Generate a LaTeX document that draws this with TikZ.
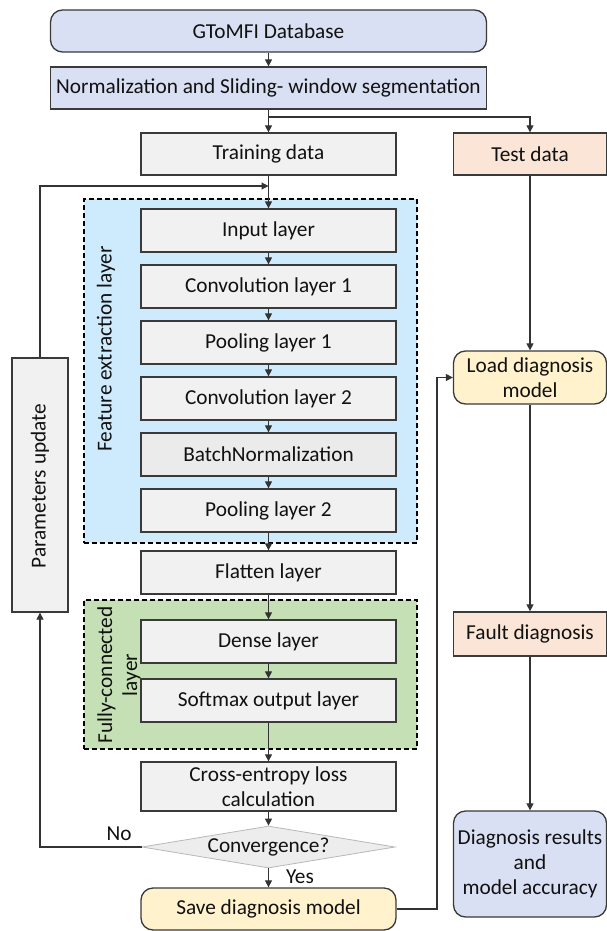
\documentclass[tikz,border=0pt]{standalone}
\usepackage{fontspec}
\setmainfont{Carlito}
\usetikzlibrary{shapes.geometric,arrows.meta}
\definecolor{lav}{HTML}{DAE0F3}
\definecolor{feblue}{HTML}{CDEBFD}
\definecolor{fcgreen}{HTML}{C5E0B4}
\definecolor{grayf}{HTML}{F1F1F1}
\definecolor{bngray}{HTML}{EBEBEB}
\definecolor{peach}{HTML}{FBE5D6}
\definecolor{yel}{HTML}{FFF2CC}
\definecolor{bordc}{HTML}{3A3A3A}
\definecolor{linec}{HTML}{333333}
\definecolor{txt}{HTML}{111111}
\begin{document}
\begin{tikzpicture}[x=1pt,y=-1pt,
  font=\fontsize{21.3}{25}\selectfont,
  box/.style={draw=bordc, line width=1.3pt, fill=grayf, minimum width=255pt, minimum height=43pt, inner sep=0pt, align=center, text=txt},
  sidebox/.style={box, minimum width=153pt},
  rbox/.style={box, rounded corners=12pt},
  group/.style={draw=black, line width=2.2pt, dash pattern=on 5pt off 3pt, inner sep=0pt},
  arr/.style={draw=linec, line width=1.2pt, -{Triangle[length=7pt,width=7pt]}},
  plain/.style={draw=linec, line width=1.2pt},
  lbl/.style={text=txt, inner sep=0pt}]
\useasboundingbox (0,0) rectangle (607,931);
% groups
\node[group, fill=feblue, minimum width=333pt, minimum height=344pt] (fe) at (250.5,371) {};
\node[group, fill=fcgreen, minimum width=333pt, minimum height=149pt] (fc) at (250.5,674.5) {};
\node[lbl, rotate=90] (felbl) at (106,349) {Feature extraction layer};
\node[lbl, rotate=90, align=center] (fclbl) at (119,675) {Fully-connected\\layer};
% main column
\node[rbox, fill=lav, minimum width=436pt, minimum height=42pt] (db) at (268.5,31) {GToMFI Database};
\node[box, fill=lav, minimum width=436pt, minimum height=42pt] (norm) at (268.5,88) {Normalization and Sliding- window segmentation};
\node[box, minimum height=42pt] (train) at (268.5,154) {Training data};
\node[box] (input) at (268.5,230.5) {Input layer};
\node[box] (conv1) at (268.5,286.5) {Convolution layer 1};
\node[box] (pool1) at (268.5,342.5) {Pooling layer 1};
\node[box] (conv2) at (268.5,398.5) {Convolution layer 2};
\node[box, fill=bngray] (bn) at (268.5,454.5) {BatchNormalization};
\node[box] (pool2) at (268.5,510.5) {Pooling layer 2};
\node[box] (flat) at (268.5,572.5) {Flatten layer};
\node[box] (dense) at (268.5,641.5) {Dense layer};
\node[box] (soft) at (268.5,700.5) {Softmax output layer};
\node[box, minimum height=49pt] (loss) at (268.5,786.5) {Cross-entropy loss\\calculation};
\node[draw=black!28, line width=0.8pt, fill=black!7, shape=diamond, aspect=6, minimum width=253pt, minimum height=42pt, inner sep=0pt, text=txt] (conv) at (268.5,847) {Convergence?};
\node[rbox, fill=yel, minimum height=42pt] (save) at (268.5,909) {Save diagnosis model};
% left
\node[box, minimum width=56pt, minimum height=254pt] (params) at (40,485) {};
\node[lbl, rotate=90] (plbl) at (40,486) {Parameters update};
% right column
\node[sidebox, fill=peach, minimum height=42pt] (test) at (530,154) {Test data};
\node[sidebox, rbox, fill=yel, minimum width=153pt, minimum height=53pt] (load) at (530,377.5) {Load diagnosis\\model};
\node[sidebox, fill=peach, minimum height=44pt] (fault) at (530,634) {Fault diagnosis};
\node[sidebox, rbox, fill=lav, minimum width=153pt, minimum height=106pt] (res) at (530,864) {Diagnosis results\\and\\model accuracy};
% connectors
\coordinate (split) at (268.5,117);
\coordinate (feed) at (268.5,186);
\coordinate (loadin) at (437,377.5);
\draw[arr] (db) -- (norm);
\draw[arr] (norm) -- (train);
\draw[arr] (split) -| (test);
\draw[arr] (train) -- (input);
\draw[arr] (params.north) |- (feed);
\draw[arr] (input) -- (conv1);
\draw[arr] (conv1) -- (pool1);
\draw[arr] (pool1) -- (conv2);
\draw[arr] (conv2) -- (bn);
\draw[arr] (bn) -- (pool2);
\draw[arr] (pool2) -- (flat);
\draw[arr] (flat) -- (dense);
\draw[arr] (dense) -- (soft);
\draw[arr] (soft) -- (loss);
\draw[arr] (loss) -- (conv);
\draw[arr] (conv) -- (save);
\draw[arr] (conv.west) -| (params.south);
\draw[arr] (save.east) -| (loadin) -- (load.west);
\draw[arr] (test) -- (load);
\draw[arr] (load) -- (fault);
\draw[arr] (fault) -- (res);
\node[lbl] (no) at (119,834) {No};
\node[lbl] (yes) at (300,877) {Yes};
\end{tikzpicture}
\end{document}
